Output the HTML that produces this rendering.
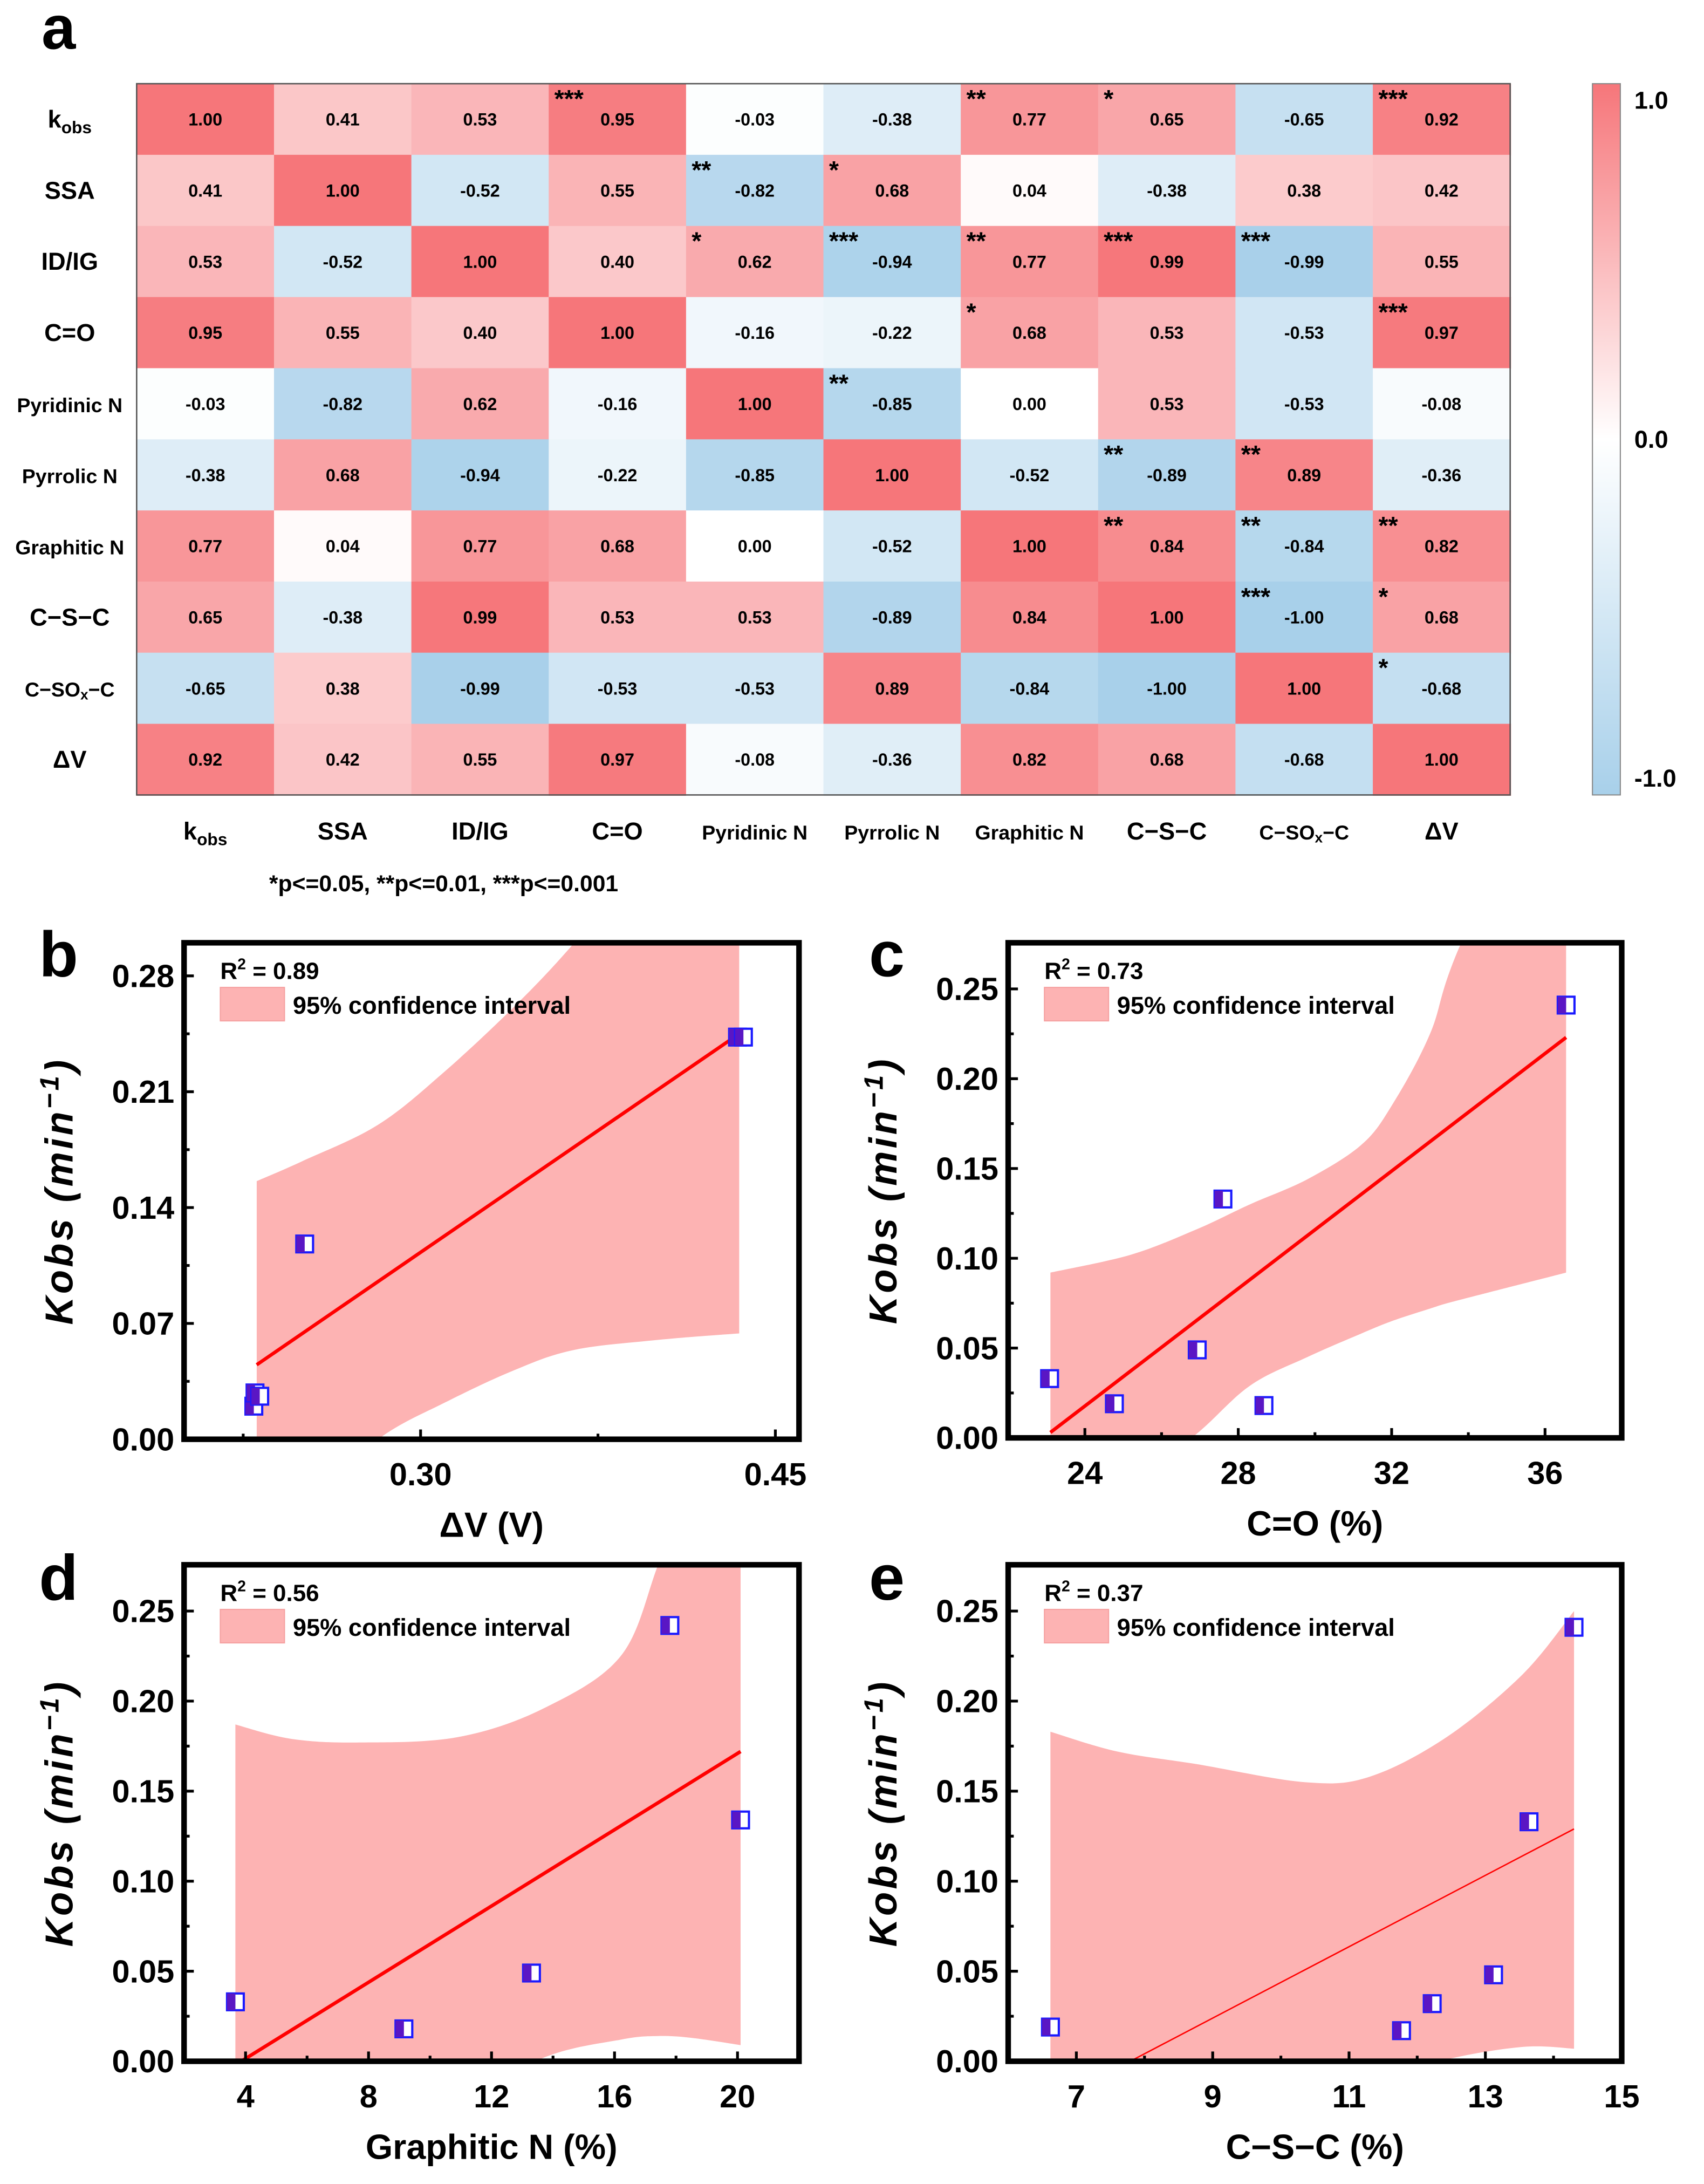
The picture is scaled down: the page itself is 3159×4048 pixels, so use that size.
<!DOCTYPE html>
<html><head><meta charset="utf-8">
<style>
html,body{margin:0;padding:0;background:#fff;}
svg{display:block;}
text{font-family:"Liberation Sans",Arial,sans-serif;font-weight:bold;}
</style></head>
<body>
<svg id="fig" xmlns="http://www.w3.org/2000/svg" width="3159" height="4048" viewBox="0 0 1222 1566" preserveAspectRatio="none">
<defs>
<linearGradient id="cbgrad" x1="0" y1="0" x2="0" y2="1">
<stop offset="0" stop-color="rgb(246,118,122)"/>
<stop offset="0.5" stop-color="#ffffff"/>
<stop offset="1" stop-color="rgb(168,208,234)"/>
</linearGradient>
</defs>
</svg>
<script>
// ---------- Heatmap data ----------
const hmLabels = ["kobs","SSA","ID/IG","C=O","Pyridinic N","Pyrrolic N","Graphitic N","C\u2212S\u2212C","C\u2212SOx\u2212C","\u0394V"];
const hmValues = [
 [1.00,0.41,0.53,0.95,-0.03,-0.38,0.77,0.65,-0.65,0.92],
 [0.41,1.00,-0.52,0.55,-0.82,0.68,0.04,-0.38,0.38,0.42],
 [0.53,-0.52,1.00,0.40,0.62,-0.94,0.77,0.99,-0.99,0.55],
 [0.95,0.55,0.40,1.00,-0.16,-0.22,0.68,0.53,-0.53,0.97],
 [-0.03,-0.82,0.62,-0.16,1.00,-0.85,0.00,0.53,-0.53,-0.08],
 [-0.38,0.68,-0.94,-0.22,-0.85,1.00,-0.52,-0.89,0.89,-0.36],
 [0.77,0.04,0.77,0.68,0.00,-0.52,1.00,0.84,-0.84,0.82],
 [0.65,-0.38,0.99,0.53,0.53,-0.89,0.84,1.00,-1.00,0.68],
 [-0.65,0.38,-0.99,-0.53,-0.53,0.89,-0.84,-1.00,1.00,-0.68],
 [0.92,0.42,0.55,0.97,-0.08,-0.36,0.82,0.68,-0.68,1.00]
];
const hmStars = [
 ["","","","***","","","**","*","","***"],
 ["","","","","**","*","","","",""],
 ["","","","","*","***","**","***","***",""],
 ["","","","","","","*","","","***"],
 ["","","","","","**","","","",""],
 ["","","","","","","","**","**",""],
 ["","","","","","","","**","**","**"],
 ["","","","","","","","","***","*"],
 ["","","","","","","","","","*"],
 ["","","","","","","","","",""]
];
const cbTicks = [1.0,0.0,-1.0];
const cbTickLabels = ["1.0","0.0","-1.0"];

// ---------- Scatter panel data ----------
const bX = [0.2295,0.2300,0.2320,0.2510,0.4340,0.4365];
const bY = [0.020,0.028,0.026,0.118,0.243,0.243];
const bFitX = [0.2307,0.4347];
const bFitY = [0.045,0.245];
const bBandX = [0.2307,0.25,0.282,0.31,0.34,0.365,0.40,0.4347];
const bBandUpper = [0.156,0.168,0.19,0.222,0.262,0.30,0.36,0.42];
const bBandLower = [-0.07,-0.04,0.0,0.022,0.042,0.054,0.060,0.064];

const cX = [23.08,24.77,26.93,27.6,28.67,36.55];
const cY = [0.033,0.019,0.049,0.133,0.018,0.241];
const cFitX = [23.1,36.55];
const cFitY = [0.003,0.223];
const cBandX = [23.1,25.2,26.9,28.3,29.8,31.2,32.0,33.0,33.8,36.55];
const cBandUpper = [0.092,0.102,0.116,0.130,0.144,0.163,0.185,0.225,0.275,0.40];
const cBandLower = [-0.07,-0.025,0.002,0.029,0.045,0.058,0.065,0.072,0.077,0.092];

const dX = [3.67,9.15,13.3,17.8,20.1];
const dY = [0.033,0.018,0.049,0.242,0.134];
const dFitX = [3.67,20.1];
const dFitY = [-0.002,0.172];
const dBandX = [3.67,5.5,7.7,10.9,13.7,16.2,17.4,18.5,20.1];
const dBandUpper = [0.187,0.179,0.177,0.180,0.196,0.225,0.275,0.33,0.42];
const dBandLower = [-0.12,-0.10,-0.07,-0.025,0.002,0.012,0.014,0.013,0.009];

const eX = [6.62,11.77,12.22,13.12,13.64,14.3];
const eY = [0.019,0.017,0.032,0.048,0.133,0.241];
const eFitX = [7.79,14.3];
const eFitY = [0.0,0.129];
const eBandX = [6.62,7.6,8.76,10.35,11.3,12.43,13.55,14.3];
const eBandUpper = [0.183,0.172,0.165,0.155,0.158,0.180,0.215,0.25];
const eBandLower = [-0.10,-0.08,-0.06,-0.03,-0.012,0.001,0.008,0.007];

const NS = "http://www.w3.org/2000/svg";
const svg = document.getElementById("fig");

function mk(parent, tag, attrs, name){
  const el = document.createElementNS(NS, tag);
  for (const k in attrs) el.setAttribute(k, attrs[k]);
  
  
  parent.appendChild(el);
  return el;
}
function txt(parent, x, y, s, size, name, anchor, extra){
  const a = Object.assign({x:x, y:y, "font-size":size, "text-anchor":anchor||"middle", fill:"#000"}, extra||{});
  const t = mk(parent, "text", a, name);
  t.textContent = s;
  return t;
}
// smooth path through points (Catmull-Rom -> Bezier)
function smoothSeg(p, start){
  let d = start ? "M"+p[0][0].toFixed(1)+","+p[0][1].toFixed(1) : "L"+p[0][0].toFixed(1)+","+p[0][1].toFixed(1);
  for (let i=0;i<p.length-1;i++){
    const p0=p[Math.max(0,i-1)], p1=p[i], p2=p[i+1], p3=p[Math.min(p.length-1,i+2)];
    const c1=[p1[0]+(p2[0]-p0[0])/6, p1[1]+(p2[1]-p0[1])/6];
    const c2=[p2[0]-(p3[0]-p1[0])/6, p2[1]-(p3[1]-p1[1])/6];
    d += " C"+c1[0].toFixed(1)+","+c1[1].toFixed(1)+" "+c2[0].toFixed(1)+","+c2[1].toFixed(1)+" "+p2[0].toFixed(1)+","+p2[1].toFixed(1);
  }
  return d;
}

// ---------- Heatmap ----------
function cellColor(v){
  const r1=[246,118,122], b1=[168,208,234];
  const e = v>=0 ? r1 : b1; const f=Math.abs(v);
  return "rgb("+[0,1,2].map(i=>Math.round(255+(e[i]-255)*f)).join(",")+")";
}
const hm = mk(svg,"g",{},"heatmap");
const HX=98, HY=60, CW=98.5, RH=51;
txt(svg, 42, 35, "a", 44, "panel-a-label", "middle", {"font-family":"Liberation Serif, serif"});
for (let r=0;r<hmValues.length;r++){
  for (let c=0;c<hmValues[r].length;c++){
    const v=hmValues[r][c];
    mk(hm,"rect",{x:HX+c*CW, y:HY+r*RH, width:CW+0.6, height:RH+0.6, fill:cellColor(v)},"heatmap-cell");
    txt(hm, HX+c*CW+CW/2, HY+r*RH+RH/2+4.5, v.toFixed(2), 12.5, "cell-value");
    if (hmStars[r][c]) txt(hm, HX+c*CW+4, HY+r*RH+17, hmStars[r][c], 18, "significance-stars", "start");
  }
}
mk(hm,"rect",{x:HX,y:HY,width:CW*10,height:RH*10,fill:"none",stroke:"#555","stroke-width":1},"heatmap-border");
function labelWithSub(parent,x,y,s,size,name,anchor){
  const t = txt(parent,x,y,"",size,name,anchor);
  if (s==="kobs"){
    const a=document.createElementNS(NS,"tspan"); a.textContent="k"; t.appendChild(a);
    const b=document.createElementNS(NS,"tspan"); b.textContent="obs"; b.setAttribute("font-size",size*0.7); b.setAttribute("dy","4"); t.appendChild(b);
  } else if (s.indexOf("SOx")>=0){
    const a=document.createElementNS(NS,"tspan"); a.textContent="C\u2212SO"; t.appendChild(a);
    const b=document.createElementNS(NS,"tspan"); b.textContent="x"; b.setAttribute("font-size",size*0.7); b.setAttribute("dy","2"); t.appendChild(b);
    const d=document.createElementNS(NS,"tspan"); d.textContent="\u2212C"; d.setAttribute("dy","-2"); t.appendChild(d);
  } else t.textContent=s;
  return t;
}
for (let i=0;i<hmLabels.length;i++){
  const small = hmLabels[i].length>6;
  labelWithSub(svg, 50, HY+i*RH+RH/2+6, hmLabels[i], small?14.5:17.5, "row-label");
  labelWithSub(svg, HX+i*CW+CW/2, 602, hmLabels[i], small?14.5:17.5, "column-label");
}
txt(svg,193,639,"*p<=0.05, **p<=0.01, ***p<=0.001",16.5,"significance-footnote","start");
// colorbar
mk(svg,"rect",{x:1142,y:60,width:20,height:510,fill:"url(#cbgrad)",stroke:"#888","stroke-width":0.8},"colorbar");
for (let i=0;i<cbTicks.length;i++){
  const y = 60 + (1-cbTicks[i])/2*510;
  txt(svg,1172,y+(i===0?18:(i===2?-6:6)),cbTickLabels[i],17.5,"colorbar-tick-label","start");
}

// ---------- Scatter panels ----------
function panel(cfg){
  const g = mk(svg,"g",{},cfg.name);
  const L=cfg.box[0], T=cfg.box[1], R=cfg.box[2], B=cfg.box[3];
  const sx = v => L + (v-cfg.xd[0])/(cfg.xd[1]-cfg.xd[0])*(R-L);
  const sy = v => B - (v-cfg.yd[0])/(cfg.yd[1]-cfg.yd[0])*(B-T);
  const cid = "clip-"+cfg.name;
  const cp = mk(g,"clipPath",{id:cid},"clip-region");
  mk(cp,"rect",{x:L,y:T,width:R-L,height:B-T},"clip-rect");
  // band
  const up=[], lo=[];
  for (let i=0;i<cfg.bandX.length;i++) up.push([sx(cfg.bandX[i]), sy(cfg.bandU[i])]);
  for (let i=cfg.bandX.length-1;i>=0;i--) lo.push([sx(cfg.bandX[i]), sy(cfg.bandL[i])]);
  const d = smoothSeg(up,true)+" "+smoothSeg(lo,false)+" Z";
  mk(g,"path",{d:d,fill:"#fdb3b3","clip-path":"url(#"+cid+")"},"confidence-band");
  // fit
  mk(g,"line",{x1:sx(cfg.fitX[0]),y1:sy(cfg.fitY[0]),x2:sx(cfg.fitX[1]),y2:sy(cfg.fitY[1]),stroke:"#ff0000","stroke-width":cfg.fitW,"clip-path":"url(#"+cid+")"},"fit-line");
  // points
  for (let i=0;i<cfg.x.length;i++){
    const px=sx(cfg.x[i]), py=sy(cfg.y[i]);
    mk(g,"rect",{x:px-6,y:py-6,width:12,height:12,fill:"#fff",stroke:"#1a1aff","stroke-width":1.6},"data-point");
    mk(g,"rect",{x:px-6,y:py-6,width:6,height:12,fill:"#5a16c4"},"data-point-fill");
  }
  // frame
  mk(g,"rect",{x:L,y:T,width:R-L,height:B-T,fill:"none",stroke:"#000","stroke-width":4},"axes-frame");
  // y ticks
  for (let v=cfg.yd[0]; v<=cfg.yd[1]+1e-9; v+=cfg.ystep/2){
    const k=Math.round((v-cfg.yd[0])/(cfg.ystep/2));
    const y=sy(v); const major = k%2===0;
    mk(g,"line",{x1:L,y1:y,x2:L+(major?7:4),y2:y,stroke:"#000","stroke-width":2},"y-tick");
    if (major) txt(g,L-7,y+8,v.toFixed(2),23,"y-tick-label","end");
  }
  for (let i=0;i<cfg.xMajor.length;i++){
    const x=sx(cfg.xMajor[i]);
    mk(g,"line",{x1:x,y1:B,x2:x,y2:B-7,stroke:"#000","stroke-width":2},"x-tick");
    txt(g,x,B+33,cfg.xLab[i],23,"x-tick-label");
  }
  for (let i=0;i<cfg.xMinor.length;i++){
    const x=sx(cfg.xMinor[i]);
    mk(g,"line",{x1:x,y1:B,x2:x,y2:B-4,stroke:"#000","stroke-width":2},"x-minor-tick");
  }
  txt(g,(L+R)/2,B+70,cfg.xTitle,25,"x-axis-title");
  const yt = txt(g,0,0,"",28,"y-axis-title","middle",{transform:"translate("+(L-80)+","+((T+B)/2)+") rotate(-90)","font-style":"italic","letter-spacing":"2"});
  const t1=document.createElementNS(NS,"tspan"); t1.textContent="Kobs (min"; yt.appendChild(t1);
  const t2=document.createElementNS(NS,"tspan"); t2.textContent="\u22121"; t2.setAttribute("font-size","19"); t2.setAttribute("dy","-10"); yt.appendChild(t2);
  const t3=document.createElementNS(NS,"tspan"); t3.textContent=")"; t3.setAttribute("dy","10"); yt.appendChild(t3);
  // legend
  const r2 = txt(g,L+26,T+26,"",17,"r-squared-label","start");
  const a1=document.createElementNS(NS,"tspan"); a1.textContent="R"; r2.appendChild(a1);
  const a2=document.createElementNS(NS,"tspan"); a2.textContent="2"; a2.setAttribute("font-size","11"); a2.setAttribute("dy","-7"); r2.appendChild(a2);
  const a3=document.createElementNS(NS,"tspan"); a3.textContent=" = "+cfg.r2; a3.setAttribute("dy","7"); r2.appendChild(a3);
  mk(g,"rect",{x:L+26,y:T+32,width:46,height:24,fill:"#fdb3b3",stroke:"#f5a0a0","stroke-width":0.8},"legend-swatch");
  txt(g,L+78,T+51,"95% confidence interval",17.5,"legend-label","start");
  txt(svg,cfg.letter[1],cfg.letter[2],cfg.letter[0],46,"panel-"+cfg.letter[0]+"-label","middle",{"font-family":"Liberation Serif, serif"});
}
panel({name:"panel-b",box:[132,676,573,1032],xd:[0.20,0.46],yd:[0,0.30],ystep:0.07,
  xMajor:[0.30,0.45],xLab:["0.30","0.45"],xMinor:[0.225,0.375],xTitle:"\u0394V (V)",
  x:bX,y:bY,fitX:bFitX,fitY:bFitY,bandX:bBandX,bandU:bBandUpper,bandL:bBandLower,fitW:2.5,r2:"0.89",letter:["b",42,700]});
panel({name:"panel-c",box:[723,676,1163,1031],xd:[22,38],yd:[0,0.2757],ystep:0.05,
  xMajor:[24,28,32,36],xLab:["24","28","32","36"],xMinor:[26,30,34],xTitle:"C=O (%)",
  x:cX,y:cY,fitX:cFitX,fitY:cFitY,bandX:cBandX,bandU:cBandUpper,bandL:cBandLower,fitW:2.5,r2:"0.73",letter:["c",636,700]});
panel({name:"panel-d",box:[132,1122,573,1478],xd:[2,22],yd:[0,0.2757],ystep:0.05,
  xMajor:[4,8,12,16,20],xLab:["4","8","12","16","20"],xMinor:[6,10,14,18],xTitle:"Graphitic N (%)",
  x:dX,y:dY,fitX:dFitX,fitY:dFitY,bandX:dBandX,bandU:dBandUpper,bandL:dBandLower,fitW:2.5,r2:"0.56",letter:["d",42,1147]});
panel({name:"panel-e",box:[723,1122,1163,1478],xd:[6,15],yd:[0,0.2757],ystep:0.05,
  xMajor:[7,9,11,13,15],xLab:["7","9","11","13","15"],xMinor:[8,10,12,14],xTitle:"C\u2212S\u2212C (%)",
  x:eX,y:eY,fitX:eFitX,fitY:eFitY,bandX:eBandX,bandU:eBandUpper,bandL:eBandLower,fitW:1,r2:"0.37",letter:["e",636,1147]});
</script>
</body></html>
